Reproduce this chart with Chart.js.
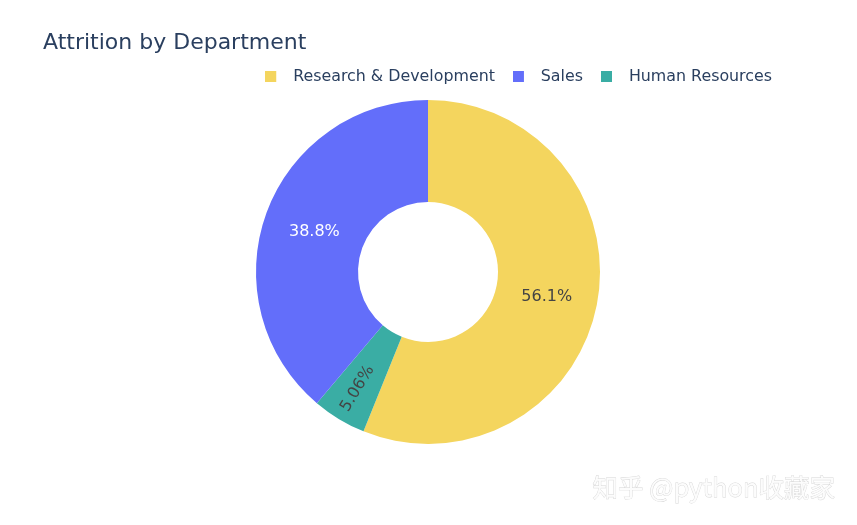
<!DOCTYPE html>
<html>
<head>
<meta charset="utf-8">
<script src="https://cdn.jsdelivr.net/npm/chart.js@4"></script>
<style>
  html, body { margin: 0; padding: 0; background: #fff; }
  #wrap { width: 857px; height: 525px; }
</style>
</head>
<body>
<div id="wrap"><canvas id="chart"></canvas></div>
<script>
// data (attrition counts per department)
const departments = ['Research & Development', 'Human Resources', 'Sales'];
const attrition = [133, 12, 92];
const sliceColors = ['#f4d55e', '#3aada4', '#636efa'];
const labelColors = ['#444444', '#444444', '#ffffff'];
const legendOrder = ['Research & Development', 'Sales', 'Human Resources'];

const fontFamily = '"DejaVu Sans", Verdana, sans-serif';

// legend swatch: square on the left of a wider box so the text sits further right
function swatch(color) {
    const c = document.createElement('canvas');
    c.width = 20;
    c.height = 11;
    const g = c.getContext('2d');
    g.fillStyle = color;
    g.fillRect(0, 0, 11, 11);
    return c;
}

const sliceLabels = {
    id: 'sliceLabels',
    afterDatasetsDraw(chart) {
        const ctx = chart.ctx;
        const meta = chart.getDatasetMeta(0);
        const total = attrition.reduce((a, b) => a + b, 0);
        ctx.save();
        ctx.font = '16px ' + fontFamily;
        ctx.textAlign = 'center';
        ctx.textBaseline = 'middle';
        meta.data.forEach((arc, i) => {
            const p = arc.getProps(['startAngle', 'endAngle', 'innerRadius', 'outerRadius', 'x', 'y'], true);
            const mid = (p.startAngle + p.endAngle) / 2;
            const share = attrition[i] / total;
            const pct = share * 100;
            const text = (pct < 10 ? pct.toFixed(2) : pct.toFixed(1)) + '%';
            ctx.fillStyle = labelColors[i];
            if (share < 0.1) {
                // small slice: text runs along the radius
                const r = p.innerRadius + (p.outerRadius - p.innerRadius) * 0.65;
                ctx.save();
                ctx.translate(p.x + Math.cos(mid) * r, p.y + Math.sin(mid) * r);
                ctx.rotate(mid + Math.PI);
                ctx.fillText(text, 0, 0);
                ctx.restore();
            } else {
                const r = (p.innerRadius + p.outerRadius) / 2;
                ctx.fillText(text, p.x + Math.cos(mid) * r, p.y + Math.sin(mid) * r + 1.5);
            }
        });
        ctx.restore();
    }
};

// pull the legend row in from the right edge
const legendShift = {
    id: 'legendShift',
    afterLayout(chart) {
        chart.legend.right -= 23;
    }
};

const watermark = {
    id: 'watermark',
    afterDraw(chart) {
        const ctx = chart.ctx;
        ctx.save();
        ctx.font = '25.5px "Noto Sans CJK SC", sans-serif';
        ctx.textAlign = 'right';
        ctx.textBaseline = 'middle';
        ctx.lineWidth = 0.8;
        ctx.strokeStyle = '#d6d6d6';
        ctx.fillStyle = '#fcfcfc';
        ctx.strokeText('知乎 @python收藏家', 835, 487);
        ctx.fillText('知乎 @python收藏家', 835, 487);
        ctx.restore();
    }
};

new Chart(document.getElementById('chart'), {
    type: 'doughnut',
    data: {
        labels: departments,
        datasets: [{
            data: attrition,
            backgroundColor: sliceColors,
            borderWidth: 0
        }]
    },
    options: {
        responsive: true,
        maintainAspectRatio: false,
        animation: false,
        radius: 172,
        cutout: '40.7%',
        layout: {
            padding: { left: 43, right: 44, top: 0, bottom: 76 }
        },
        plugins: {
            title: {
                display: true,
                text: 'Attrition by Department',
                align: 'start',
                color: '#2a3f5f',
                font: { family: fontFamily, size: 22, weight: 'normal', lineHeight: 1 },
                padding: { top: 32, bottom: -3 }
            },
            legend: {
                position: 'top',
                align: 'end',
                labels: {
                    color: '#2a3f5f',
                    font: { family: fontFamily, size: 15.85 },
                    usePointStyle: true,
                    pointStyleWidth: 20,
                    boxHeight: 11,
                    padding: 18,
                    generateLabels(chart) {
                        const items = Chart.overrides.doughnut.plugins.legend.labels.generateLabels(chart);
                        items.forEach(it => { it.pointStyle = swatch(it.fillStyle); });
                        return legendOrder.map(name => items.find(it => it.text === name));
                    }
                }
            },
            tooltip: { enabled: false }
        }
    },
    plugins: [sliceLabels, legendShift, watermark]
});
</script>
</body>
</html>
